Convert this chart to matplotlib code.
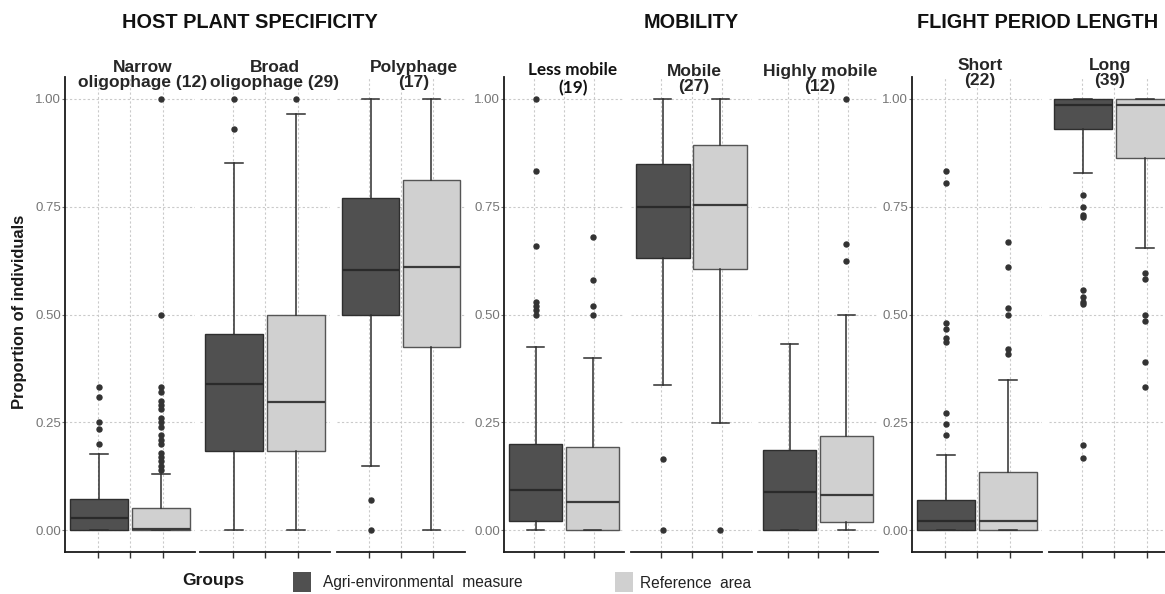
import matplotlib
matplotlib.use("Agg")
import matplotlib.pyplot as plt
from matplotlib.patches import Rectangle

plt.rcParams["font.family"] = ["Liberation Sans", "DejaVu Sans"]

# facet labels, one per trait class
facet_labels = ["Narrow\noligophage (12)", "Broad\noligophage (29)", "Polyphage\n(17)",
                "Less mobile\n(19)", "Mobile\n(27)", "Highly mobile\n(12)",
                "Short\n(22)", "Long\n(39)"]
trait_titles = ["HOST PLANT SPECIFICITY", "MOBILITY", "FLIGHT PERIOD LENGTH"]
group_names = ["Agri-environmental  measure", "Reference  area"]
y_ticks = [0.0, 0.25, 0.5, 0.75, 1.0]
y_ticklabels = ["0.00", "0.25", "0.50", "0.75", "1.00"]

# box statistics: agri-environmental measure
agri_q1 = [0.0, 0.184, 0.50, 0.021, 0.631, 0.0, 0.0, 0.93]
agri_med = [0.028, 0.338, 0.602, 0.093, 0.75, 0.088, 0.021, 0.986]
agri_q3 = [0.072, 0.455, 0.769, 0.201, 0.848, 0.186, 0.070, 1.0]
agri_lo = [0.0, 0.0, 0.150, 0.0, 0.337, 0.0, 0.0, 0.828]
agri_hi = [0.178, 0.851, 1.0, 0.425, 1.0, 0.431, 0.174, 1.0]
agri_out = [
    [0.333, 0.31, 0.25, 0.235, 0.20],
    [1.0, 0.93],
    [0.07, 0.0],
    [1.0, 0.833, 0.658, 0.53, 0.52, 0.51, 0.50],
    [0.165, 0.0],
    [],
    [0.833, 0.804, 0.48, 0.466, 0.446, 0.437, 0.272, 0.247, 0.22],
    [0.776, 0.75, 0.73, 0.725, 0.556, 0.54, 0.53, 0.525, 0.197, 0.168],
]

# box statistics: reference area
ref_q1 = [0.0, 0.184, 0.424, 0.0, 0.605, 0.019, 0.0, 0.862]
ref_med = [0.003, 0.298, 0.61, 0.065, 0.753, 0.082, 0.021, 0.985]
ref_q3 = [0.051, 0.50, 0.8125, 0.193, 0.893, 0.218, 0.136, 1.0]
ref_lo = [0.0, 0.0, 0.0, 0.0, 0.248, 0.0, 0.0, 0.654]
ref_hi = [0.13, 0.965, 1.0, 0.399, 1.0, 0.50, 0.348, 1.0]
ref_out = [
    [1.0, 0.5, 0.333, 0.32, 0.30, 0.29, 0.28, 0.26, 0.25, 0.24, 0.22,
     0.21, 0.20, 0.18, 0.17, 0.16, 0.15, 0.14],
    [1.0],
    [],
    [0.68, 0.58, 0.52, 0.50],
    [0.0],
    [1.0, 0.664, 0.623],
    [0.669, 0.611, 0.516, 0.498, 0.419, 0.408],
    [0.595, 0.582, 0.498, 0.485, 0.389, 0.333],
]

W, H = 1165, 594
fig = plt.figure(figsize=(W / 100, H / 100), dpi=100)

# facet panel extents in pixels (left, right); first of each trait gets the y axis
panels = [(65, 195), (200, 330), (337, 465),
          (504, 624), (631, 752), (758, 878),
          (912, 1042), (1049, 1179)]
first_in_trait = [0, 3, 6]
top_px, bot_px = 77, 552

dark, light = "#505050", "#d0d0d0"


def stats(q1, med, q3, lo, hi, out):
    return [dict(q1=q1, med=med, q3=q3, whislo=lo, whishi=hi, fliers=out)]


for i, (l, r) in enumerate(panels):
    ax = fig.add_axes([l / W, 1 - bot_px / H, (r - l) / W, (bot_px - top_px) / H])
    ax.set_xlim(0, 4)
    ax.set_ylim(-0.05, 1.05)
    ax.set_axisbelow(True)
    ax.grid(True, color="#cacaca", linestyle=(0, (2, 2)), linewidth=0.8)

    for pos, col, edge, medc, st in [
        (1.05, dark, "#2e2e2e", "#2a2a2a",
         stats(agri_q1[i], agri_med[i], agri_q3[i], agri_lo[i], agri_hi[i], agri_out[i])),
        (2.95, light, "#555555", "#3a3a3a",
         stats(ref_q1[i], ref_med[i], ref_q3[i], ref_lo[i], ref_hi[i], ref_out[i])),
    ]:
        ax.bxp(st, positions=[pos], widths=1.78, capwidths=0.55, patch_artist=True,
               manage_ticks=False,
               boxprops=dict(facecolor=col, edgecolor=edge, linewidth=1.0),
               medianprops=dict(color=medc, linewidth=1.6),
               whiskerprops=dict(color="#2e2e2e", linewidth=1.1),
               capprops=dict(color="#2e2e2e", linewidth=1.1),
               flierprops=dict(marker="o", markersize=3.6, markerfacecolor="#333333",
                               markeredgecolor="#333333"))

    ax.set_xticks([1, 2, 3])
    ax.set_xticklabels([])
    ax.tick_params(axis="x", length=4, width=1, color="#333333")
    ax.set_yticks(y_ticks)
    for s in ["top", "right"]:
        ax.spines[s].set_visible(False)
    ax.spines["bottom"].set_linewidth(1.3)
    ax.spines["bottom"].set_color("#1a1a1a")
    if i in first_in_trait:
        ax.set_yticklabels(y_ticklabels, color="#767676", fontsize=9.5)
        ax.tick_params(axis="y", length=2, width=0.8, color="#767676", pad=1)
        ax.spines["left"].set_linewidth(1.3)
        ax.spines["left"].set_color("#1a1a1a")
    else:
        ax.set_yticklabels([])
        ax.tick_params(axis="y", length=0)
        ax.spines["left"].set_visible(False)

# strip labels above each facet (centre x, centre y in px)
strip_pos = [(143, 75), (275, 75), (414, 75),
             (573, 79), (694, 79), (820, 79),
             (980, 73), (1110, 73)]
for i, (lab, (cx, cy)) in enumerate(zip(facet_labels, strip_pos)):
    if i == 3:
        fig.text(cx / W, 1 - cy / H, lab, ha="center", va="center", fontsize=12.3,
                 fontweight="bold", color="#111111", linespacing=1.1,
                 family=["Lato", "DejaVu Sans"])
    else:
        fig.text(cx / W, 1 - cy / H, lab, ha="center", va="center", fontsize=12.5,
                 fontweight="bold", color="#262626", linespacing=1.05)

# trait titles
for title, cx in zip(trait_titles, [250, 691, 1038]):
    fig.text(cx / W, 1 - 23 / H, title, ha="center", va="center", fontsize=14.3,
             fontweight="bold", color="#111111")

fig.text(20 / W, 1 - 312 / H, "Proportion of individuals", rotation=90,
         ha="center", va="center", fontsize=11.9, fontweight="bold", color="#1a1a1a")

# legend along the bottom
fig.text(182 / W, 1 - 581 / H, "Groups", ha="left", va="center", fontsize=12.5,
         fontweight="bold", color="#1a1a1a")
for (x0, x_txt), col, name in zip([(293, 323), (615, 640)], [dark, light], group_names):
    fig.patches.append(Rectangle((x0 / W, 1 - 592 / H), 18 / W, 20 / H,
                                 transform=fig.transFigure, facecolor=col,
                                 edgecolor="none"))
    fig.text(x_txt / W, 1 - 583 / H, name, ha="left", va="center", fontsize=11.2,
             color="#222222")

fig.savefig("out.png", dpi=100)
